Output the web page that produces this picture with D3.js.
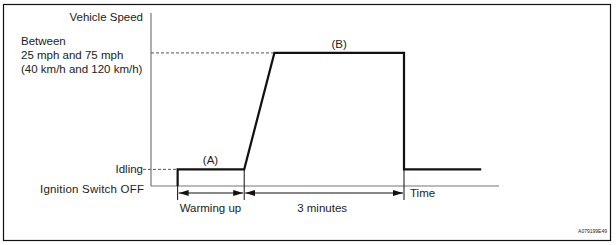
<!DOCTYPE html>
<html>
<head>
<meta charset="utf-8">
<script src="https://cdn.jsdelivr.net/npm/d3@7/dist/d3.min.js"></script>
<style>
body { margin: 0; background: #fff; }
svg { display: block; }
text { font-family: "Liberation Sans", Arial, sans-serif; fill: #222; }
</style>
</head>
<body>
<svg width="616" height="245"></svg>
<script>
"use strict";

// time in seconds, speed in km/h (schematic)
var profileTime = [30, 30, 105, 139, 285, 285, 372];
var profileSpeed = [0, 10, 10, 80, 80, 10, 10];
var levelNames = ["Ignition Switch OFF", "Idling", "Between"];
var levelSpeed = [0, 10, 80];
var speedLines = ["Between", "25 mph and 75 mph", "(40 km/h and 120 km/h)"];
var spans = [
	{label: "Warming up", from: 30, to: 105},
	{label: "3 minutes", from: 105, to: 285}
];
var phases = [
	{label: "(A)", t: 67, v: 10},
	{label: "(B)", t: 212, v: 80}
];
var timeMax = 392;
var speedMax = 104;

var svg = d3.select('svg');
var x = d3.scaleLinear().domain([0, timeMax]).range([151, 499]);
var y = d3.scaleLinear().domain([0, speedMax]).range([186, 13]);

svg.append('defs').append('marker')
	.attr('id', 'arr')
	.attr('viewBox', '0 0 10 6')
	.attr('refX', 10).attr('refY', 3)
	.attr('markerWidth', 10).attr('markerHeight', 6)
	.attr('markerUnits', 'userSpaceOnUse')
	.attr('orient', 'auto-start-reverse')
	.append('path')
	.attr('d', 'M0,0L10,3L0,6Z')
	.attr('fill', '#111');

// frame
svg.append('rect')
	.attr('x', 3.5).attr('y', 4.5)
	.attr('width', 607).attr('height', 236)
	.attr('fill', 'none').attr('stroke', '#111').attr('stroke-width', 1.2);

// axes
svg.append('line')
	.attr('x1', x(0)).attr('x2', x(0))
	.attr('y1', y(speedMax)).attr('y2', y(0))
	.attr('stroke', '#777').attr('stroke-width', 1.2);
svg.append('line')
	.attr('x1', x(0)).attr('x2', x(timeMax))
	.attr('y1', y(0)).attr('y2', y(0))
	.attr('stroke', '#777').attr('stroke-width', 1.2);

// dashed guides
svg.append('line')
	.attr('x1', x(0)).attr('x2', x(profileTime[3]))
	.attr('y1', y(80)).attr('y2', y(80))
	.attr('stroke', '#555').attr('stroke-dasharray', '3,2');
svg.append('line')
	.attr('x1', x(0) - 8).attr('x2', x(profileTime[0]))
	.attr('y1', y(10)).attr('y2', y(10))
	.attr('stroke', '#555').attr('stroke-dasharray', '3,2');

// speed profile
var line = d3.line()
	.x(function(d) {return x(d[0])})
	.y(function(d) {return y(d[1])});
svg.append('path')
	.datum(d3.zip(profileTime, profileSpeed))
	.attr('d', line)
	.attr('fill', 'none')
	.attr('stroke', '#111')
	.attr('stroke-width', 2.2)
	.attr('stroke-linejoin', 'miter');

// dimension ticks
var tickTimes = [30, 105, 285];
svg.selectAll('line.tick').data(tickTimes).enter().append('line')
	.attr('class', 'tick')
	.attr('x1', function(d) {return x(d)})
	.attr('x2', function(d) {return x(d)})
	.attr('y1', function(d, i) {return i == 0 ? y(0) : y(10)})
	.attr('y2', y(0) + 14)
	.attr('stroke', '#111').attr('stroke-width', 1);

// dimension arrows
var arrowY = y(0) + 7;
svg.selectAll('line.span').data(spans).enter().append('line')
	.attr('class', 'span')
	.attr('x1', function(d) {return x(d.from) + 1})
	.attr('x2', function(d) {return x(d.to) - 1})
	.attr('y1', arrowY).attr('y2', arrowY)
	.attr('stroke', '#111').attr('stroke-width', 1.2)
	.attr('marker-start', 'url(#arr)')
	.attr('marker-end', 'url(#arr)');
svg.selectAll('text.span').data(spans).enter().append('text')
	.attr('class', 'span')
	.attr('x', function(d, i) {return i == 0 ? x(d.from) + 2 : x(d.from) + 53})
	.attr('y', y(0) + 26)
	.attr('font-size', 11.5)
	.text(function(d) {return d.label});

// phase labels
svg.selectAll('text.phase').data(phases).enter().append('text')
	.attr('class', 'phase')
	.attr('x', function(d) {return x(d.t)})
	.attr('y', function(d) {return y(d.v) - 5})
	.attr('text-anchor', 'middle')
	.attr('font-size', 11.5)
	.text(function(d) {return d.label});

// axis titles
svg.append('text')
	.attr('x', x(0) - 8).attr('y', 21)
	.attr('text-anchor', 'end')
	.attr('font-size', 11.5)
	.text("Vehicle Speed");
svg.append('text')
	.attr('x', x(timeMax) - 89).attr('y', y(0) + 11)
	.attr('font-size', 11.5)
	.text("Time");

// level labels
svg.append('text')
	.attr('x', x(0) - 8).attr('y', y(levelSpeed[1]) + 4)
	.attr('text-anchor', 'end')
	.attr('font-size', 11.5)
	.text(levelNames[1]);
svg.append('text')
	.attr('x', 40).attr('y', y(levelSpeed[0]) + 7)
	.attr('font-size', 11.5)
	.attr('letter-spacing', 0.2)
	.text(levelNames[0]);
svg.selectAll('text.speed').data(speedLines).enter().append('text')
	.attr('class', 'speed')
	.attr('x', 21)
	.attr('y', function(d, i) {return y(levelSpeed[2]) - 8 + i * 14})
	.attr('font-size', 11.5)
	.text(function(d) {return d});

// figure code
svg.append('text')
	.attr('x', 607).attr('y', 233)
	.attr('text-anchor', 'end')
	.attr('font-size', 5)
	.text("A079199E49");
</script>
</body>
</html>
